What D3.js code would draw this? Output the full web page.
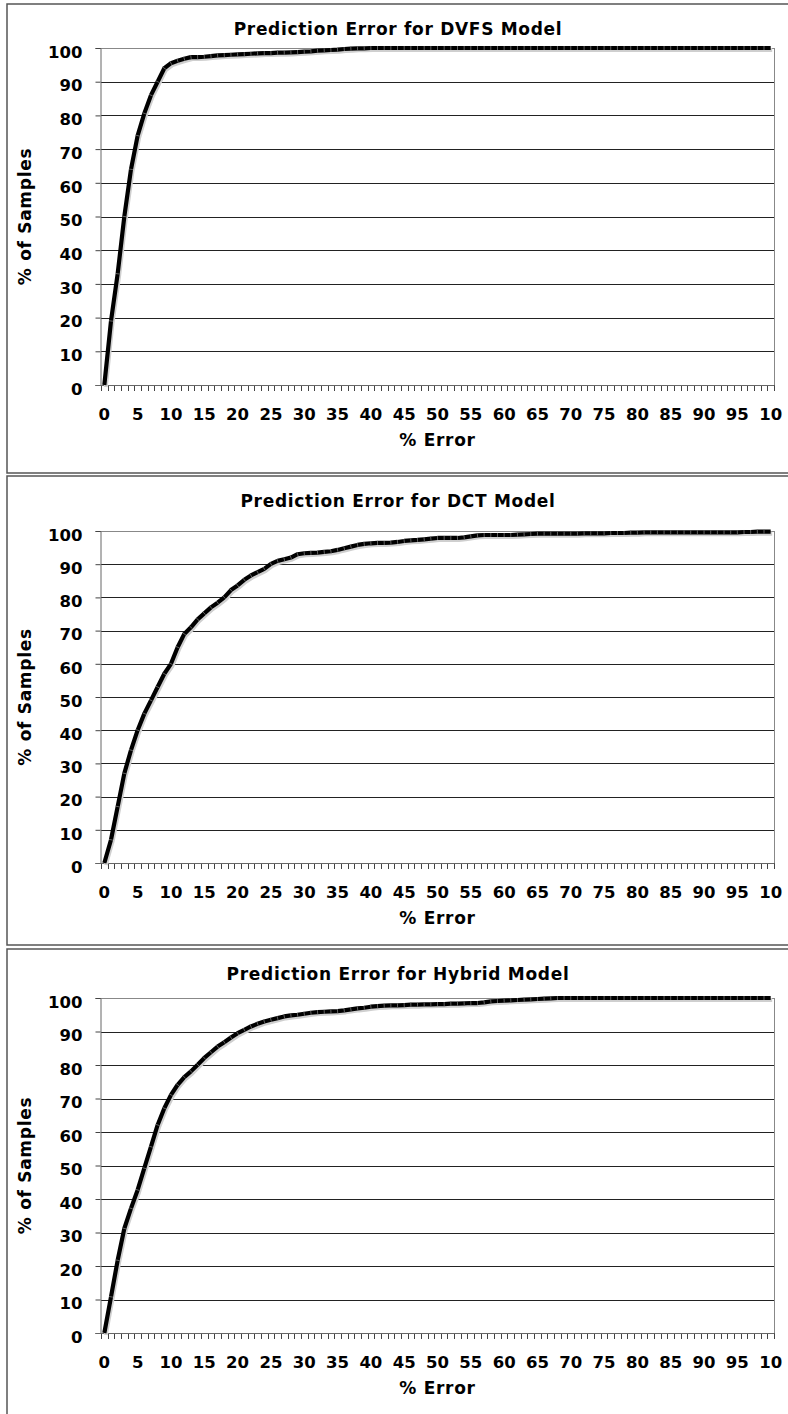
<!DOCTYPE html>
<html>
<head>
<meta charset="utf-8">
<script src="https://cdn.jsdelivr.net/npm/d3@7/dist/d3.min.js"></script>
<style>
body { margin: 0; background: #fff; }
svg text { font-family: "DejaVu Sans", Verdana, sans-serif; font-weight: bold; fill: #000; }
.tick text { font-size: 16.5px; }
.label { font-size: 17px; letter-spacing: 0.7px; }
</style>
</head>
<body>
<div id="chart"></div>
<script>
// % error categories (one per integer), labels every 5
var errorCats = d3.range(0, 101);
var xLabelCats = [0, 5, 10, 15, 20, 25, 30, 35, 40, 45, 50, 55, 60, 65, 70, 75, 80, 85, 90, 95, 100];
// the last label is cut to "10" in the picture
var xLabels = ["0", "5", "10", "15", "20", "25", "30", "35", "40", "45", "50", "55", "60", "65", "70", "75", "80", "85", "90", "95", "10"];
var yTicks = [0, 10, 20, 30, 40, 50, 60, 70, 80, 90, 100];
var titles = ["Prediction Error for DVFS Model", "Prediction Error for DCT Model", "Prediction Error for Hybrid Model"];
var xTitle = "% Error";
var yTitle = "% of Samples";

// cumulative % of samples
var dvfsValues = [0, 19, 33, 50, 64, 74, 80.6, 86, 90, 94,
  95.5, 96.2, 96.8, 97.3, 97.3, 97.4, 97.6, 97.8, 97.9, 98,
  98.1, 98.2, 98.3, 98.4, 98.5, 98.5, 98.6, 98.6, 98.7, 98.8,
  98.9, 99, 99.2, 99.3, 99.4, 99.5, 99.7, 99.8, 99.9, 99.9,
  100, 100, 100, 100, 100, 100, 100, 100, 100, 100,
  100, 100, 100, 100, 100, 100, 100, 100, 100, 100,
  100, 100, 100, 100, 100, 100, 100, 100, 100, 100,
  100, 100, 100, 100, 100, 100, 100, 100, 100, 100,
  100, 100, 100, 100, 100, 100, 100, 100, 100, 100,
  100, 100, 100, 100, 100, 100, 100, 100, 100, 100, 100];

var dctValues = [0, 7, 17, 27, 34, 40, 45, 49, 53, 57,
  60, 65, 69, 71, 73.4, 75.2, 77, 78.4, 80, 82.2,
  83.6, 85.3, 86.6, 87.6, 88.6, 90.1, 91, 91.5, 92, 93,
  93.3, 93.4, 93.5, 93.7, 93.9, 94.3, 94.8, 95.3, 95.8, 96.1,
  96.3, 96.4, 96.4, 96.5, 96.7, 97, 97.2, 97.3, 97.5, 97.7,
  97.9, 97.9, 97.9, 97.9, 98.1, 98.4, 98.7, 98.8, 98.8, 98.8,
  98.8, 98.8, 98.9, 99, 99.1, 99.2, 99.2, 99.2, 99.2, 99.2,
  99.2, 99.2, 99.3, 99.3, 99.3, 99.3, 99.4, 99.4, 99.4, 99.5,
  99.5, 99.6, 99.6, 99.6, 99.6, 99.6, 99.6, 99.6, 99.6, 99.6,
  99.6, 99.6, 99.6, 99.6, 99.6, 99.6, 99.7, 99.7, 99.8, 99.8, 99.8];

var hybridValues = [0, 10.8, 21.7, 31.2, 37.2, 42.7, 49.2, 55.6, 62.1, 67.1,
  71.1, 74.1, 76.4, 78.1, 80.1, 82.1, 83.8, 85.5, 86.8, 88.2,
  89.5, 90.5, 91.5, 92.3, 93, 93.5, 94, 94.5, 94.8, 95,
  95.3, 95.6, 95.8, 95.9, 96, 96.1, 96.3, 96.6, 96.9, 97.1,
  97.4, 97.6, 97.7, 97.8, 97.8, 97.9, 98, 98, 98.1, 98.1,
  98.2, 98.2, 98.3, 98.3, 98.4, 98.5, 98.5, 98.7, 99, 99.1,
  99.2, 99.3, 99.4, 99.5, 99.6, 99.7, 99.8, 99.9, 100, 100,
  100, 100, 100, 100, 100, 100, 100, 100, 100, 100,
  100, 100, 100, 100, 100, 100, 100, 100, 100, 100,
  100, 100, 100, 100, 100, 100, 100, 100, 100, 100, 100];

var seriesList = [dvfsValues, dctValues, hybridValues];

// layout of the three stacked chart boxes
var W = 788, H = 1414;
var plotLeft = 101, plotRight = 774;
var panels = [
    {frameTop: 4, frameBottom: 473, titleBase: 35, plotTop: 48, plotBottom: 385},
    {frameTop: 476, frameBottom: 945, titleBase: 507, plotTop: 531, plotBottom: 863},
    {frameTop: 949, frameBottom: 1420, titleBase: 980, plotTop: 998, plotBottom: 1333}
];

var svg = d3.select("#chart").append("svg")
    .attr("width", W)
    .attr("height", H);

var x = d3.scaleBand().domain(errorCats).range([plotLeft, plotRight]).paddingInner(0).paddingOuter(0);

function drawPanel(p, title, values) {
    var g = svg.append("g");
    var y = d3.scaleLinear().domain([0, 100]).range([p.plotBottom, p.plotTop]);

    // outer frame
    g.append("rect")
        .attr("x", 7).attr("y", p.frameTop)
        .attr("width", 800).attr("height", p.frameBottom - p.frameTop)
        .style("fill", "none").style("stroke", "#555").style("stroke-width", 1.5);

    // grid lines
    g.selectAll(".grid").data(yTicks.filter(function (d) { return d > 0 && d < 100; }))
        .enter().append("line")
        .attr("x1", plotLeft).attr("x2", plotRight)
        .attr("y1", function (d) { return Math.round(y(d)) + 0.5; })
        .attr("y2", function (d) { return Math.round(y(d)) + 0.5; })
        .style("stroke", "#222").style("stroke-width", 1);

    // plot border top / right
    g.append("line").attr("x1", plotLeft).attr("x2", plotRight + 0.5)
        .attr("y1", p.plotTop + 0.5).attr("y2", p.plotTop + 0.5)
        .style("stroke", "#888");
    g.append("line").attr("x1", plotRight + 0.5).attr("x2", plotRight + 0.5)
        .attr("y1", p.plotTop).attr("y2", p.plotBottom)
        .style("stroke", "#888");

    // y axis
    var yAxis = g.append("g")
        .attr("transform", "translate(" + (plotLeft - 0.5) + ",0)")
        .call(d3.axisLeft(y).tickValues(yTicks).tickSize(5).tickPadding(13));
    yAxis.attr("font-size", null).attr("font-family", null);
    yAxis.select(".domain").style("stroke", "#666");
    yAxis.selectAll(".tick line").style("stroke", "#444");
    yAxis.selectAll("text").attr("dy", "0.56em");

    // x axis: ticks at category boundaries, labels every 5
    var bounds = errorCats.map(function (c) { return x(c); }).concat([plotRight]);
    g.selectAll(".xtick").data(bounds).enter().append("line")
        .attr("x1", function (d) { return Math.round(d) + 0.5; })
        .attr("x2", function (d) { return Math.round(d) + 0.5; })
        .attr("y1", p.plotBottom).attr("y2", p.plotBottom + 6)
        .style("stroke", "#444");
    g.append("line").attr("x1", plotLeft - 5).attr("x2", plotRight + 0.5)
        .attr("y1", p.plotBottom + 0.5).attr("y2", p.plotBottom + 0.5)
        .style("stroke", "#666");

    var xAxis = g.append("g")
        .attr("transform", "translate(0," + p.plotBottom + ")")
        .call(d3.axisBottom(x)
            .tickValues(xLabelCats)
            .tickFormat(function (c, i) { return xLabels[i]; })
            .tickSize(0).tickPadding(0));
    xAxis.attr("font-size", null).attr("font-family", null);
    xAxis.select(".domain").remove();
    xAxis.selectAll("text").attr("y", 35).attr("dy", 0);

    // the curve, with Excel-like soft shadow
    var px = function (i) { return x(errorCats[i]) + x.bandwidth() / 2; };
    var line = d3.line()
        .x(function (d, i) { return px(i); })
        .y(function (d) { return y(d); });

    g.append("path").datum(values)
        .attr("d", line)
        .attr("transform", "translate(1.5,2)")
        .style("fill", "none").style("stroke", "#cfcfcf").style("stroke-width", 4)
        .style("stroke-linejoin", "round");
    g.append("path").datum(values)
        .attr("d", line)
        .style("fill", "none").style("stroke", "#000").style("stroke-width", 4.2)
        .style("stroke-linejoin", "round");

    // faint seams where Excel joins the segments
    var joints = values.slice(1, values.length - 1).map(function (v, k) {
        var i = k + 1;
        var dx = px(i + 1) - px(i - 1), dy = y(values[i + 1]) - y(values[i - 1]);
        var len = Math.sqrt(dx * dx + dy * dy);
        return {x: px(i), y: y(v), nx: -dy / len, ny: dx / len};
    });
    g.selectAll(".joint").data(joints).enter().append("line")
        .attr("x1", function (d) { return d.x - d.nx * 2; })
        .attr("y1", function (d) { return d.y - d.ny * 2; })
        .attr("x2", function (d) { return d.x + d.nx * 2; })
        .attr("y2", function (d) { return d.y + d.ny * 2; })
        .style("stroke", "#777").style("stroke-width", 0.8);

    // titles
    g.append("text").attr("class", "label").attr("x", 398).attr("y", p.titleBase)
        .attr("text-anchor", "middle").text(title);
    g.append("text").attr("class", "label").attr("x", (plotLeft + plotRight) / 2).attr("y", p.plotBottom + 61)
        .attr("text-anchor", "middle").text(xTitle);
    g.append("text").attr("class", "label")
        .attr("transform", "translate(31," + ((p.plotTop + p.plotBottom) / 2) + ") rotate(-90)")
        .attr("text-anchor", "middle").text(yTitle);
}

for (var i = 0; i < panels.length; i += 1) {
    drawPanel(panels[i], titles[i], seriesList[i]);
}
</script>
</body>
</html>
